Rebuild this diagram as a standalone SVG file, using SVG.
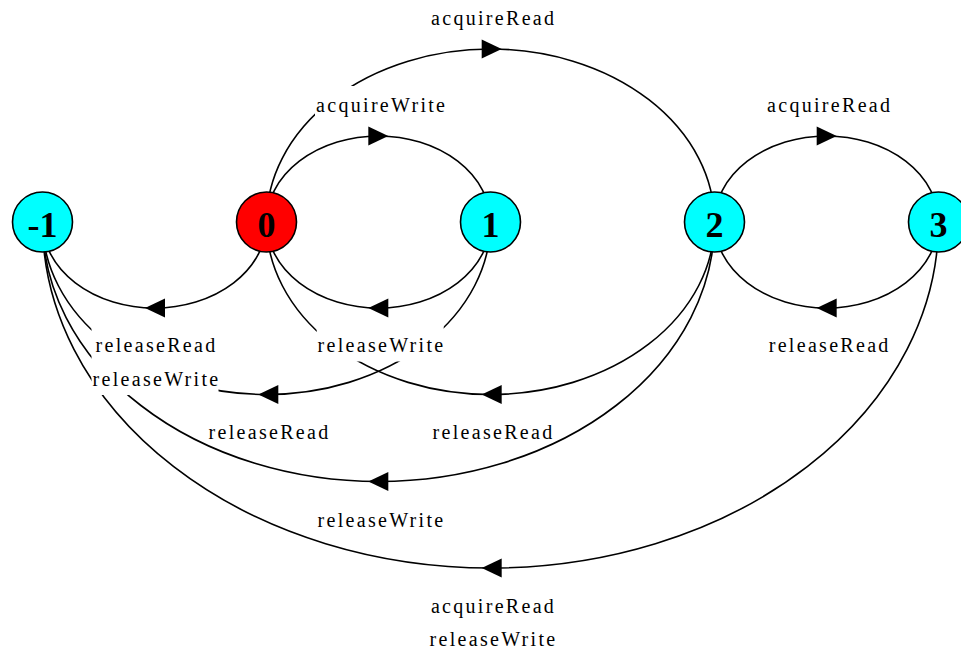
<svg xmlns="http://www.w3.org/2000/svg" width="961" height="648" viewBox="0 0 961 648">
<style>
.edge{fill:none;stroke:#000;stroke-width:1.6}
.arrow{fill:#000;stroke:none}
.lbox{fill:#fff;stroke:none}
.lbl{font-family:"Liberation Serif","Times New Roman",serif;font-size:20px;letter-spacing:2.3px;text-anchor:middle;fill:#000}
.node circle{stroke:#000;stroke-width:1.6}
.node text{font-family:"Liberation Serif","Times New Roman",serif;font-size:36px;font-weight:bold;text-anchor:middle;fill:#000}
.cyan{fill:#00ffff}
.red{fill:#ff0000}
</style>
<rect width="961" height="648" fill="#fff"/>
<g id="connectors">
  <path class="edge" d="M266.5,222 A112,86 0 0 1 490.5,222"/>
  <path class="edge" d="M266.5,222 A224,173 0 0 1 714.5,222"/>
  <path class="edge" d="M714.5,222 A112,86 0 0 1 938.5,222"/>
  <path class="edge" d="M714.5,222 A112,86 0 0 0 938.5,222"/>
  <path class="edge" d="M266.5,222 A112,86 0 0 0 490.5,222"/>
  <path class="edge" d="M42.5,222 A112,86 0 0 0 266.5,222"/>
  <path class="edge" d="M42.5,222 A224,172.5 0 0 0 490.5,222"/>
  <path class="edge" d="M266.5,222 A224,172.5 0 0 0 714.5,222"/>
  <path class="edge" d="M42.5,222 A336,259.5 0 0 0 714.5,222"/>
  <path class="edge" d="M42.5,222 A448,346 0 0 0 938.5,222"/>
  <polygon class="arrow" points="368.3,126.5 388.3,136 368.3,145.5"/>
  <polygon class="arrow" points="481.7,39.5 501.7,49 481.7,58.5"/>
  <polygon class="arrow" points="816.7,126.5 836.7,136 816.7,145.5"/>
  <polygon class="arrow" points="836.7,298.5 816.7,308 836.7,317.5"/>
  <polygon class="arrow" points="388.3,298.5 368.3,308 388.3,317.5"/>
  <polygon class="arrow" points="165,298.5 145,308 165,317.5"/>
  <polygon class="arrow" points="278.3,385 258.3,394.5 278.3,404"/>
  <polygon class="arrow" points="501.7,385 481.7,394.5 501.7,404"/>
  <polygon class="arrow" points="388.3,472 368.3,481.5 388.3,491"/>
  <polygon class="arrow" points="501.7,558.5 481.7,568 501.7,577.5"/>
</g>
<g id="edge-labels">
  <rect class="lbox" x="315" y="86" width="131" height="35.5"/>
  <text class="lbl" x="381.7" y="112">acquireWrite</text>
  <rect class="lbox" x="429.5" y="-1" width="126" height="35.5"/>
  <text class="lbl" x="493.7" y="25">acquireRead</text>
  <rect class="lbox" x="765.5" y="86" width="126" height="35.5"/>
  <text class="lbl" x="829.7" y="112">acquireRead</text>
  <rect class="lbox" x="768" y="326" width="121" height="35.5"/>
  <text class="lbl" x="829.7" y="352">releaseRead</text>
  <rect class="lbox" x="316.7" y="326" width="127" height="35.5"/>
  <text class="lbl" x="381.5" y="352">releaseWrite</text>
  <rect class="lbox" x="91.5" y="326" width="127" height="69"/>
  <text class="lbl" x="156.5" y="352">releaseRead</text>
  <text class="lbl" x="156.5" y="386">releaseWrite</text>
  <text class="lbl" x="269.5" y="439">releaseRead</text>
  <text class="lbl" x="493.5" y="439">releaseRead</text>
  <text class="lbl" x="381.5" y="526.5">releaseWrite</text>
  <text class="lbl" x="493.5" y="612.5">acquireRead</text>
  <text class="lbl" x="493.5" y="645.5">releaseWrite</text>
</g>
<g id="node-m1" class="node"><circle class="cyan" cx="42.5" cy="222" r="30"/><text x="42.5" y="237">-1</text></g>
<g id="node-0" class="node"><circle class="red" cx="266.5" cy="222" r="30"/><text x="266.5" y="237">0</text></g>
<g id="node-1" class="node"><circle class="cyan" cx="490.5" cy="222" r="30"/><text x="490.5" y="237">1</text></g>
<g id="node-2" class="node"><circle class="cyan" cx="714.5" cy="222" r="30"/><text x="714.5" y="237">2</text></g>
<g id="node-3" class="node"><circle class="cyan" cx="938.5" cy="222" r="30"/><text x="938.5" y="237">3</text></g>
</svg>
